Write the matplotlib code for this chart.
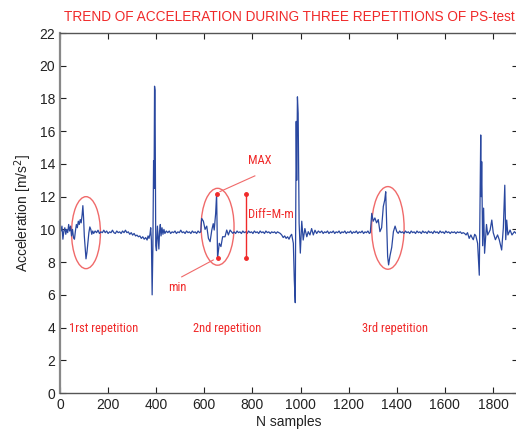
import numpy as np
import matplotlib
matplotlib.use("Agg")
import matplotlib.pyplot as plt
from matplotlib.patches import Ellipse

plt.rcParams['font.family'] = ['Liberation Sans', 'DejaVu Sans']

# acceleration trace as (sample, m/s^2) vertices
rep1 = [(0, 10.3), (4, 9.9), (8, 10.2), (12, 9.4), (16, 9.9), (20, 10.1), (24, 9.7),
        (28, 10.0), (32, 9.8), (36, 10.3), (40, 9.9), (44, 10.2), (48, 9.6), (52, 10.0),
        (56, 9.5), (60, 9.4), (64, 9.9), (68, 10.3), (72, 10.1), (76, 10.5), (80, 10.3),
        (84, 10.6), (88, 10.4), (92, 10.9), (95, 11.45), (98, 10.7), (101, 9.6),
        (104, 9.0), (108, 8.2), (112, 8.6), (116, 9.2), (120, 9.8), (124, 10.15),
        (128, 10.0), (132, 9.7), (136, 9.9)]
flat1 = [(140, 9.75), (146, 9.9), (152, 9.8), (158, 9.95), (164, 9.75), (170, 9.85),
         (176, 9.8), (182, 9.95), (188, 9.8), (194, 9.9), (200, 9.75), (206, 9.85),
         (212, 9.8), (218, 9.95), (224, 9.8), (230, 9.75), (236, 9.9), (242, 9.8),
         (248, 9.85), (254, 9.75), (260, 9.9), (266, 9.8), (272, 9.95), (278, 9.8),
         (284, 9.85), (290, 9.7), (296, 9.8), (302, 9.65), (308, 9.75), (314, 9.6),
         (320, 9.65), (326, 9.55), (332, 9.6), (338, 9.45), (344, 9.55), (350, 9.4),
         (356, 9.5), (362, 9.35), (366, 9.6), (370, 9.45), (374, 9.7), (377, 10.1)]
spike1 = [(380, 9.3), (383, 6.0), (386, 8.8), (389, 14.2), (391, 12.5), (393, 18.75),
          (395, 18.5), (398, 9.0), (401, 8.7), (405, 10.2), (408, 9.5), (411, 8.8),
          (414, 9.9), (417, 10.3), (420, 9.6), (424, 10.1), (428, 9.7), (432, 10.0)]
flat2 = [(436, 9.75), (442, 9.9), (448, 9.8), (454, 9.9), (460, 9.75), (466, 9.85),
         (472, 9.8), (478, 9.9), (484, 9.75), (490, 9.85), (496, 9.8), (502, 9.95),
         (508, 9.8), (514, 9.85), (520, 9.75), (526, 9.9), (532, 9.8), (538, 9.85),
         (544, 9.75), (550, 9.9), (556, 9.8), (562, 9.85), (568, 9.75), (574, 9.9),
         (580, 9.8), (585, 9.85)]
rep2 = [(589, 10.67), (596, 10.5), (603, 10.0), (610, 10.2), (617, 9.45), (624, 9.25),
        (631, 9.96), (637, 10.35), (641, 9.96), (647, 10.97), (651, 12.16), (655, 8.23),
        (662, 9.15), (669, 8.95), (676, 9.55), (686, 9.55), (693, 9.96), (700, 9.66),
        (707, 9.96), (718, 9.76)]
flat3 = [(724, 9.85), (730, 9.75), (736, 9.9), (742, 9.8), (748, 9.85), (754, 9.75),
         (760, 9.9), (766, 9.8), (772, 9.85), (778, 9.75), (784, 9.9), (790, 9.8),
         (796, 9.85), (802, 9.75), (808, 9.9), (814, 9.8), (820, 9.85), (826, 9.75),
         (832, 9.9), (838, 9.8), (844, 9.85), (850, 9.75), (856, 9.9), (862, 9.8),
         (868, 9.85), (874, 9.75), (880, 9.85), (886, 9.8), (892, 9.85), (898, 9.75),
         (904, 9.85), (910, 9.8), (916, 9.75), (922, 9.65), (928, 9.5), (934, 9.6),
         (940, 9.45), (946, 9.55), (952, 9.4), (958, 9.6), (963, 9.7)]
spike2 = [(970, 9.15), (974, 6.9), (978, 5.52), (982, 16.6), (984, 13.0), (987, 18.1),
          (990, 17.1), (994, 10.4), (999, 8.55), (1005, 10.5), (1011, 9.35), (1018, 10.05),
          (1026, 9.55), (1032, 9.86), (1039, 9.66), (1046, 10.05), (1053, 9.66),
          (1060, 9.95), (1067, 9.75), (1074, 9.9), (1081, 9.8)]
flat4 = [(1088, 9.9), (1094, 9.75), (1100, 9.85), (1106, 9.8), (1112, 9.9), (1118, 9.75),
         (1124, 9.85), (1130, 9.8), (1136, 9.9), (1142, 9.75), (1148, 9.85), (1154, 9.8),
         (1160, 9.9), (1166, 9.75), (1172, 9.85), (1178, 9.8), (1184, 9.9), (1190, 9.75),
         (1196, 9.85), (1202, 9.8), (1208, 9.9), (1214, 9.75), (1220, 9.85), (1226, 9.8),
         (1232, 9.9), (1238, 9.75), (1244, 9.85), (1250, 9.8), (1256, 9.9), (1262, 9.75),
         (1268, 9.85), (1274, 9.8), (1280, 9.9), (1286, 9.75), (1290, 9.8)]
rep3 = [(1296, 10.98), (1302, 10.5), (1309, 10.7), (1316, 10.4), (1323, 10.6),
        (1330, 9.86), (1337, 10.1), (1344, 11.4), (1350, 11.8), (1354, 12.3),
        (1358, 10.4), (1362, 8.35), (1366, 7.83), (1372, 8.4), (1379, 8.9), (1386, 9.86),
        (1393, 10.2), (1400, 9.86), (1406, 9.76)]
flat5 = [(1412, 9.9), (1418, 9.8), (1424, 9.85), (1430, 9.75), (1436, 9.9), (1442, 9.8),
         (1448, 9.85), (1454, 9.75), (1460, 9.9), (1466, 9.8), (1472, 9.85), (1478, 9.75),
         (1484, 9.9), (1490, 9.8), (1496, 9.85), (1502, 9.75), (1508, 9.9), (1514, 9.8),
         (1520, 9.85), (1526, 9.75), (1532, 9.9), (1538, 9.8), (1544, 9.85), (1550, 9.75),
         (1556, 9.9), (1562, 9.8), (1568, 9.85), (1574, 9.75), (1580, 9.9), (1586, 9.8),
         (1592, 9.85), (1598, 9.75), (1604, 9.9), (1610, 9.8), (1616, 9.85), (1622, 9.75),
         (1628, 9.85), (1634, 9.8), (1640, 9.85), (1646, 9.75), (1652, 9.85), (1658, 9.8),
         (1664, 9.85), (1670, 9.75), (1676, 9.8), (1682, 9.75)]
spike3 = [(1688, 9.66), (1694, 9.8), (1701, 9.45), (1708, 9.66), (1713, 9.5), (1718, 9.37),
          (1724, 9.7), (1729, 9.6), (1736, 9.15), (1743, 7.2), (1749, 15.77), (1751, 12.0),
          (1753, 14.14), (1757, 9.0), (1761, 11.3), (1765, 8.54), (1773, 10.3),
          (1778, 9.66), (1788, 9.96), (1795, 10.57), (1801, 9.8), (1810, 9.37),
          (1819, 9.66), (1826, 9.37), (1836, 8.74), (1843, 10.1), (1849, 12.7),
          (1853, 9.37), (1857, 10.57), (1862, 9.66), (1871, 9.96), (1879, 9.66),
          (1889, 9.86), (1896, 9.76)]

trace = rep1 + flat1 + spike1 + flat2 + rep2 + flat3 + spike2 + flat4 + rep3 + flat5 + spike3
n_samples = [p[0] for p in trace]
accel = [p[1] for p in trace]

# annotation data
ellipses = [(108, 9.8, 120, 4.4), (655, 10.16, 137, 4.7), (1363, 10.09, 135, 5.05)]
rep_labels = ["1rst repetition", "2nd repetition", "3rd repetition"]
rep_label_x = [37, 553, 1255]
max_pt = (651, 12.16)
min_pt = (655, 8.23)
diff_x = 772

red = '#f02a2a'
pale_red = '#f06a6a'

fig = plt.figure(figsize=(5.16, 4.30), dpi=100)
ax = fig.add_axes([0.1163, 0.086, 458 / 516, 0.8372])

ax.plot(n_samples, accel, color='#2a48a0', lw=0.9)

for cx, cy, w, h in ellipses:
    ax.add_patch(Ellipse((cx, cy), w, h, fill=False, edgecolor=pale_red, lw=1.0))

# MAX / min markers and Diff bar
ax.plot([max_pt[0], min_pt[0]], [max_pt[1], min_pt[1]], 'o', color=red, ms=2.5, ls='none')
ax.plot([max_pt[0] + 14, 810], [max_pt[1] + 0.15, 13.27], color=pale_red, lw=0.8)
ax.plot([min_pt[0] - 18, 506], [min_pt[1] - 0.1, 7.1], color=pale_red, lw=0.8)
ax.plot([diff_x, diff_x], [max_pt[1], min_pt[1]], color=red, lw=1.0, marker='o', ms=2.5)

cond = ['Roboto Condensed', 'Liberation Sans Narrow', 'DejaVu Sans']
tkw = dict(color=red, fontsize=9, family=cond, stretch='condensed', va='center')
ax.text(783, 14.2, "MAX", **tkw)
ax.text(450, 6.45, "min", **tkw)
ax.text(783, 10.88, "Diff=M-m", **tkw)
for lx, lab in zip(rep_label_x, rep_labels):
    ax.text(lx, 3.95, lab, **tkw)

ax.set_xlim(0, 1904)
ax.set_ylim(0, 22)
ax.set_xticks(np.arange(0, 1801, 200))
ax.set_yticks(np.arange(0, 23, 2))
ax.tick_params(direction='in', top=True, right=True, length=4, labelsize=10,
               colors='#222222', width=0.8)
for s in ax.spines.values():
    s.set_color('#555555')
    s.set_linewidth(1.0)
ax.spines['left'].set_color('#888888')
ax.spines['left'].set_linewidth(1.6)

ax.set_xlabel("N samples", fontsize=10, color='#222222', labelpad=2)
ax.set_ylabel("Acceleration [m/s$^2$]", fontsize=10, color='#222222', labelpad=4)
ax.set_title("TREND OF ACCELERATION DURING THREE REPETITIONS OF PS-test",
             color=red, fontsize=9.8, pad=9)

fig.savefig("out.png", dpi=100)
